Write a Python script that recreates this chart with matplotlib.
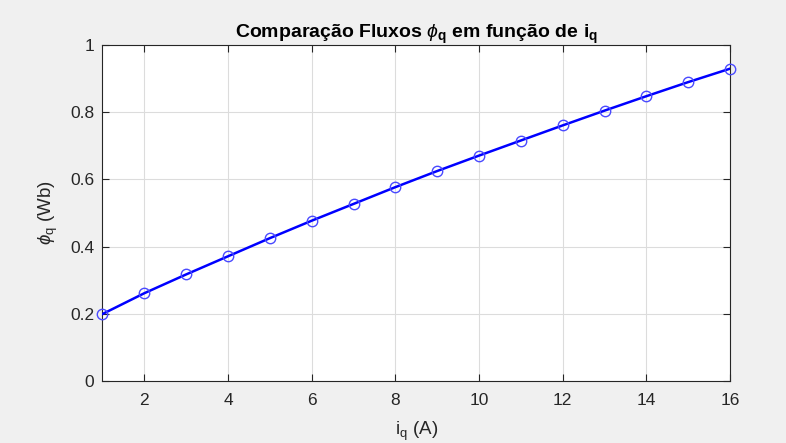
import matplotlib
matplotlib.use("Agg")
import matplotlib.pyplot as plt
from matplotlib.ticker import FuncFormatter

iq = [1, 2, 3, 4, 5, 6, 7, 8, 9, 10, 11, 12, 13, 14, 15, 16]
phiq = [0.199, 0.261, 0.317, 0.371, 0.425, 0.477, 0.527, 0.577, 0.625,
        0.671, 0.716, 0.761, 0.805, 0.848, 0.890, 0.930]
xticks = [2, 4, 6, 8, 10, 12, 14, 16]
yticks = [0, 0.2, 0.4, 0.6, 0.8, 1]

plt.rcParams['font.family'] = ['Liberation Sans', 'DejaVu Sans']
plt.rcParams['mathtext.fontset'] = 'custom'
plt.rcParams['mathtext.rm'] = 'Liberation Sans'
plt.rcParams['mathtext.it'] = 'Liberation Sans:italic'
plt.rcParams['mathtext.bf'] = 'Liberation Sans:bold'

fig = plt.figure(figsize=(7.86, 4.43), dpi=100, facecolor='#f0f0f0')
ax = fig.add_axes([0.1304, 0.1404, 0.7984, 0.7576])
ax.set_facecolor('white')

ax.plot(iq, phiq, color='#0000ff', lw=1.8, zorder=3)
ax.plot(iq, phiq, ls='none', marker='o', ms=7.5, mfc='none', mec='#4a4aff',
        mew=1.0, zorder=4, clip_on=False)

ax.set_xlim(1, 16)
ax.set_ylim(0, 1)
ax.set_xticks(xticks)
ax.set_yticks(yticks)
ax.yaxis.set_major_formatter(FuncFormatter(lambda v, p: f"{v:g}"))
ax.grid(True, color='#dcdcdc', lw=0.8)
ax.set_axisbelow(True)
ax.tick_params(direction='in', length=5, width=0.8, colors='#262626',
               labelsize=12.5, top=True, right=True, labeltop=False, labelright=False)
ax.tick_params(axis='x', pad=9)
ax.tick_params(axis='y', pad=6)
for s in ax.spines.values():
    s.set_color('#262626')
    s.set_linewidth(0.8)

ax.set_title(r'Comparação Fluxos $\phi_{\mathbf{q}}$ em função de $\mathbf{i_q}$',
             fontsize=14, fontweight='bold', color='black', pad=5)
ax.set_xlabel(r'$\mathrm{i_q}$ (A)', fontsize=13.5, color='#262626', labelpad=8)
ax.set_ylabel(r'$\phi_\mathrm{q}$ (Wb)', fontsize=13.5, color='#262626', labelpad=7)

fig.savefig('out.png', dpi=100, facecolor=fig.get_facecolor())
